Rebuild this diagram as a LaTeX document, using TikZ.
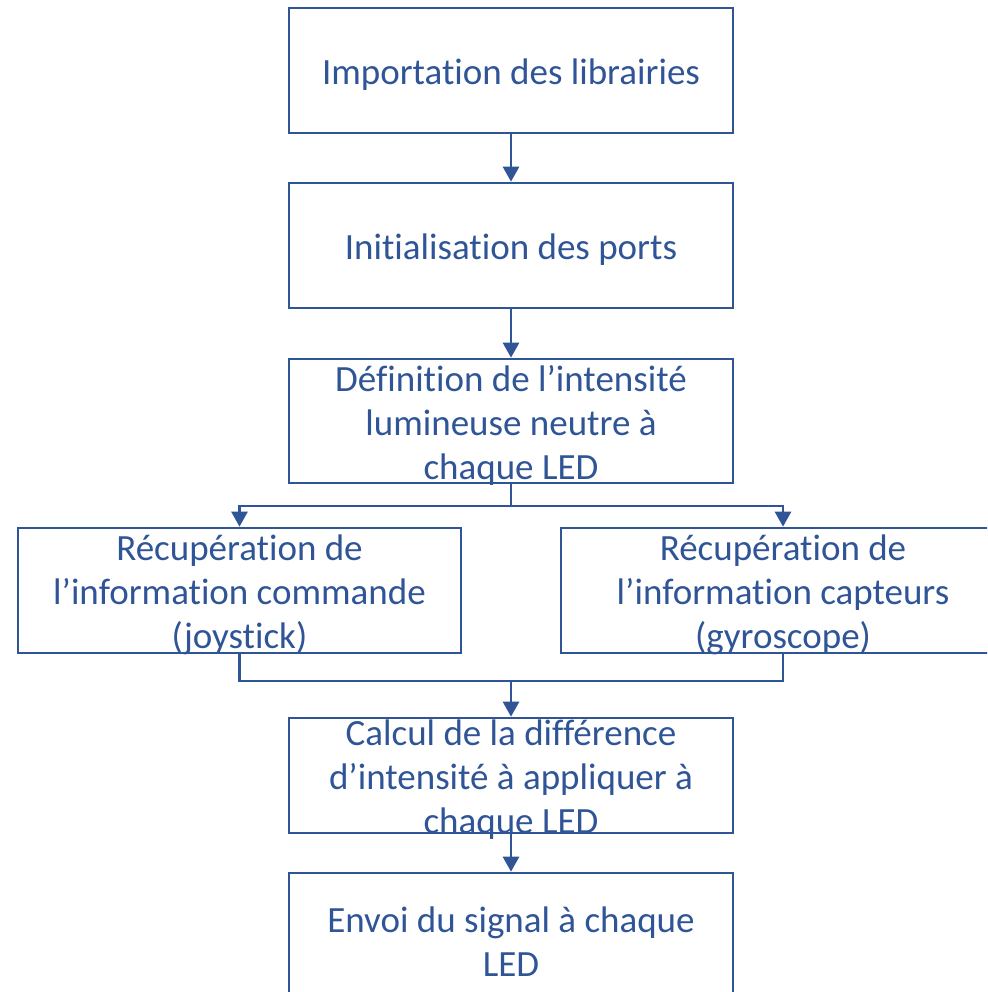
\documentclass[tikz,border=0pt]{standalone}
\usepackage{fontspec}
\setmainfont{Carlito}[Ligatures=NoCommon]
\usetikzlibrary{arrows.meta}
\definecolor{wblue}{RGB}{47,85,151}
\tikzset{
  box/.style={draw=wblue, line width=2.6pt, rectangle, inner sep=0pt, minimum width=444pt},
  txt/.style={text=wblue, align=center, inner sep=0pt, yshift=-4pt, font=\fontsize{37}{44}\selectfont},
  conn/.style={draw=wblue, line width=2.6pt},
  arr/.style={conn, -{Triangle[width=16pt,length=15pt]}}
}
\begin{document}
\begin{tikzpicture}[x=1pt,y=-1pt]
\useasboundingbox (0,0) rectangle (987,992);
\clip (0,0) rectangle (987,992);
\node[box, minimum height=125pt] (b1) at (511,70.5) {};
\node[box, minimum height=125pt] (b2) at (511,245.5) {};
\node[box, minimum height=124pt] (b3) at (511,421) {};
\node[box, minimum width=443pt, minimum height=125pt] (b4) at (239.5,590.5) {};
\node[box, minimum height=125pt] (b5) at (783,590.5) {};
\node[box, minimum height=115pt] (b6) at (511,775.5) {};
\node[box, minimum height=130pt] (b7) at (511,938) {};

\node[txt] (t1) at (b1) {Importation des librairies};
\node[txt] (t2) at (b2) {Initialisation des ports};
\node[txt] (t3) at (b3) {Définition de l’intensité\\lumineuse neutre à\\chaque LED};
\node[txt] (t4) at (b4) {Récupération de\\l’information commande\\(joystick)};
\node[txt] (t5) at (b5) {Récupération de\\l’information capteurs\\(gyroscope)};
\node[txt] (t6) at (b6) {Calcul de la différence\\d’intensité à appliquer à\\chaque LED};
\node[txt] (t7) at (b7) {Envoi du signal à chaque\\LED};

\coordinate (j1) at (511,506);
\coordinate (j2) at (511,681);
\coordinate (j2l) at (239.5,681);
\coordinate (j2r) at (783,681);

\draw[arr] (b1.south) -- (b2.north);
\draw[arr] (b2.south) -- (b3.north);
\draw[conn] (b3.south) -- (j1);
\draw[arr] (j1) -| (b4.north);
\draw[arr] (j1) -| (b5.north);
\draw[conn] (b4.south) -- (j2l) -- (j2r) -- (b5.south);
\draw[arr] (j2) -- (b6.north);
\draw[arr] (b6.south) -- (b7.north);
\end{tikzpicture}
\end{document}
